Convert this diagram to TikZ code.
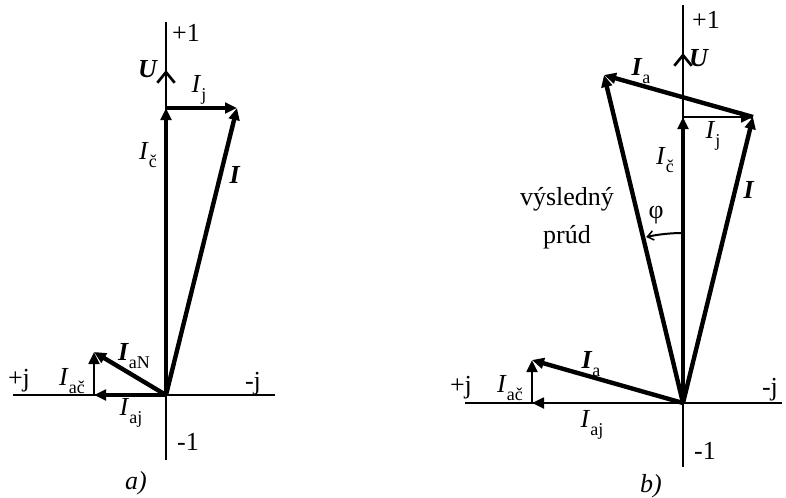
\documentclass[tikz,border=0pt]{standalone}
\usepackage{fontspec}
\setmainfont{Liberation Serif}
\usetikzlibrary{arrows.meta}
\newcommand{\bI}{\textbf{\textit{I}}}
\newcommand{\iI}{\textit{I}}
\newcommand{\bU}{\textbf{\textit{U}}}
\newcommand{\sbs}[1]{\raisebox{-0.3em}{\fontsize{13.5}{14}\selectfont #1}}
\begin{document}
\begin{tikzpicture}[x=0.75pt,y=-0.75pt,
  axisline/.style={line width=1pt},
  uvec/.style={line width=2pt,-{Straight Barb[length=8pt,width=13pt,line width=2pt]}},
  thickvec/.style={line width=3.3pt,-{Triangle[length=9pt,width=8pt]}},
  midvec/.style={line width=2.6pt,-{Triangle[length=9pt,width=8pt]}},
  thinvec/.style={line width=2pt,-{Triangle[length=9pt,width=8pt]}},
  lbl/.style={font=\fontsize{19.5}{22}\selectfont, inner sep=0pt},
  angarrow/.style={line width=1.5pt,-{Straight Barb[length=4.5pt,width=7pt,line width=1.2pt]}}
]
\useasboundingbox (0,0) rectangle (786,497);

% ---------- a) ----------
\coordinate (Oa) at (166,395);
\coordinate (aL) at (13,395);
\coordinate (aR) at (275,395);
\coordinate (aT) at (166,22);
\coordinate (aB) at (166,460);
\coordinate (Ua) at (166,70);
\coordinate (Ca) at (166,108);
\coordinate (Ja) at (237,108);
\coordinate (ANa) at (94,352);
\coordinate (AJa) at (94,395);

\draw[axisline] (aL) -- (aR);
\draw[axisline] (aT) -- (aB);
\draw[uvec] (Oa) -- (Ua);
\draw[thickvec] (Oa) -- (Ca);
\draw[midvec] (Ca) -- (Ja);
\draw[thickvec] (Oa) -- (Ja);
\draw[midvec] (Oa) -- (AJa);
\draw[thinvec] (AJa) -- (ANa);
\draw[thickvec] (Oa) -- (ANa);

\node[lbl] (pa1) at (186,33) {+1};
\node[lbl] (Ula) at (148,69) {\bU};
\node[lbl] (Ija) at (199,90) {\iI\sbs{j}};
\node[lbl] (Ica) at (148,155) {\iI\sbs{č}};
\node[lbl] (Ia) at (235,175) {\bI};
\node[lbl] (pja) at (19,381) {+j};
\node[lbl] (Iaca) at (72,381) {\iI\sbs{ač}};
\node[lbl] (IaNa) at (134,356) {\bI\sbs{aN}};
\node[lbl] (Iaja) at (131,413) {\iI\sbs{aj}};
\node[lbl] (mja) at (253,384) {-j};
\node[lbl] (m1a) at (188,442) {-1};
\node[lbl] (capa) at (136,483) {\textit{a)}};

% ---------- b) ----------
\coordinate (Ob) at (683,403);
\coordinate (bL) at (465,403);
\coordinate (bR) at (782,403);
\coordinate (bT) at (683,5);
\coordinate (bB) at (683,467);
\coordinate (Ub) at (683,53);
\coordinate (Cb) at (683,117);
\coordinate (Jb) at (753,117);
\coordinate (Rb) at (604,75);
\coordinate (ANb) at (532,360);
\coordinate (AJb) at (532,403);
\coordinate (phiS) at (683,233);

\draw[axisline] (bL) -- (bR);
\draw[axisline] (bT) -- (bB);
\draw[uvec] (Ob) -- (Ub);
\draw[midvec] (Ob) -- (Cb);
\draw[thinvec] (Cb) -- (Jb);
\draw[thickvec] (Ob) -- (Jb);
\draw[thickvec] (Jb) -- (Rb);
\draw[thickvec] (Ob) -- (Rb);
\draw[thinvec] (Ob) -- (AJb);
\draw[thinvec] (AJb) -- (ANb);
\draw[thickvec] (Ob) -- (ANb);
\draw[angarrow] (phiS) arc[start angle=-90,end angle=-102.5,radius=170];

\node[lbl] (pb1) at (706,20) {+1};
\node[lbl] (Ulb) at (699,58) {\bU};
\node[lbl] (Iaub) at (641,71) {\bI\sbs{a}};
\node[lbl] (Ijb) at (713,136) {\iI\sbs{j}};
\node[lbl] (Icb) at (665,160) {\iI\sbs{č}};
\node[lbl] (Ib) at (749,190) {\bI};
\node[lbl] (vys) at (567,199) {výsledný};
\node[lbl] (prud) at (567,237) {prúd};
\node[lbl] (phi) at (656,215) {φ};
\node[lbl] (Ialb) at (591,364) {\bI\sbs{a}};
\node[lbl] (pjb) at (461,388) {+j};
\node[lbl] (Iacb) at (510,388) {\iI\sbs{ač}};
\node[lbl] (Iajb) at (592,425) {\iI\sbs{aj}};
\node[lbl] (mjb) at (770,390) {-j};
\node[lbl] (m1b) at (705,451) {-1};
\node[lbl] (capb) at (651,486) {\textit{b)}};
\end{tikzpicture}
\end{document}
